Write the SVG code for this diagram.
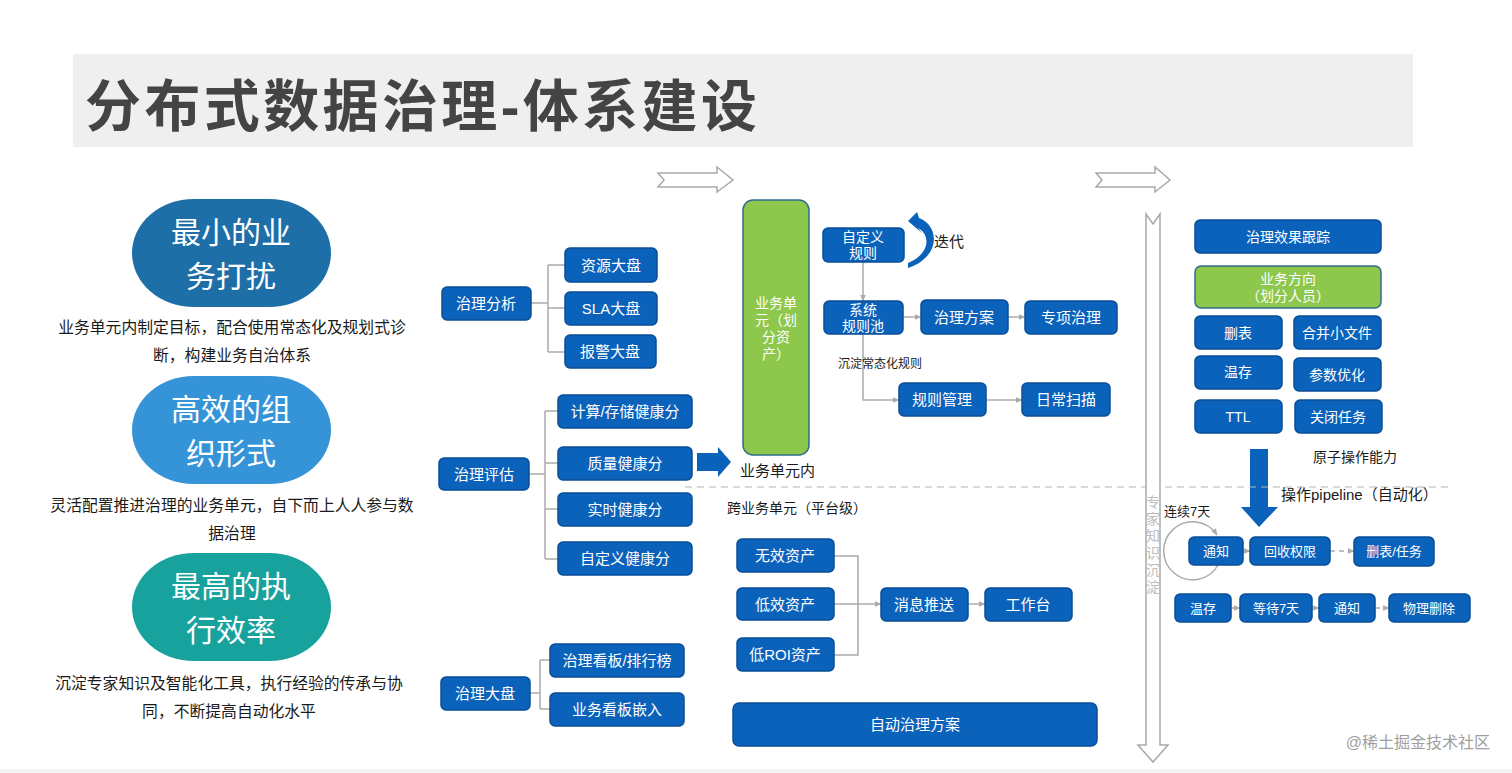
<svg xmlns="http://www.w3.org/2000/svg" width="1512" height="773" viewBox="0 0 1512 773">
<defs>
<style>
text{font-family:"Liberation Sans","Noto Sans CJK SC",sans-serif;}
.b{fill:#0b62bb;stroke:#0a4e96;stroke-width:1.5;}
.g{fill:#8dc74c;stroke:#2f6d8a;stroke-width:1.5;}
.t{fill:#fff;font-size:15px;text-anchor:middle;dominant-baseline:central;}
.ts{fill:#fff;font-size:14px;text-anchor:middle;dominant-baseline:central;}
.tx{fill:#fff;font-size:13px;text-anchor:middle;dominant-baseline:central;}
.c{fill:none;stroke:#ababab;stroke-width:1.5;}
.cd{fill:none;stroke:#ababab;stroke-width:1.5;stroke-dasharray:5 4;}
.cap{fill:#1a1a1a;font-size:15.8px;text-anchor:middle;dominant-baseline:central;}
.ov{fill:#fff;font-size:30px;text-anchor:middle;dominant-baseline:central;}
.lab{fill:#1a1a1a;dominant-baseline:central;}
.hol{fill:#fff;stroke:#a9a9a9;stroke-width:1.5;}
</style>
<marker id="ah" viewBox="0 0 10 10" refX="9" refY="5" markerWidth="7" markerHeight="7" orient="auto" markerUnits="userSpaceOnUse">
<path d="M0,1 L10,5 L0,9 Z" fill="#ababab"/>
</marker>
</defs>
<rect width="1512" height="773" fill="#fff"/>
<rect x="0" y="769" width="1512" height="4" fill="#f2f2f2"/>
<g id="title">
<rect x="73" y="54" width="1340" height="93" fill="#efefef"/>
<text x="85" y="106" font-size="56" font-weight="bold" fill="#444" dominant-baseline="central" textLength="672" lengthAdjust="spacing">分布式数据治理-体系建设</text>
</g>
<g id="topArrows">
<path class="hol" d="M658,173 L717,173 L717,167 L733,180 L717,192 L717,187 L658,187 L664,180 Z"/>
<path class="hol" d="M1096,173 L1155,173 L1155,167 L1170,180 L1155,192 L1155,187 L1096,187 L1102,180 Z"/>
</g>
<g id="pillar1">
<rect x="132" y="199" width="199" height="108" rx="62" ry="54" fill="#1e6fa8"/>
<text class="ov" x="231" y="232">最小的业</text>
<text class="ov" x="231" y="276">务打扰</text>
<text class="cap" x="232" y="327">业务单元内制定目标，配合使用常态化及规划式诊</text>
<text class="cap" x="232" y="355">断，构建业务自治体系</text>
</g>
<g id="pillar2">
<rect x="132" y="376" width="199" height="108" rx="62" ry="54" fill="#3594d8"/>
<text class="ov" x="231" y="409">高效的组</text>
<text class="ov" x="231" y="453">织形式</text>
<text class="cap" x="232" y="505">灵活配置推进治理的业务单元，自下而上人人参与数</text>
<text class="cap" x="232" y="533">据治理</text>
</g>
<g id="pillar3">
<rect x="132" y="553" width="199" height="108" rx="62" ry="54" fill="#18a29d"/>
<text class="ov" x="231" y="586">最高的执</text>
<text class="ov" x="231" y="630">行效率</text>
<text class="cap" x="229" y="683">沉淀专家知识及智能化工具，执行经验的传承与协</text>
<text class="cap" x="229" y="711">同，不断提高自动化水平</text>
</g>
<g id="connectors">
<path class="c" d="M531,303 H548 M548,265 V352 M548,265 H565 M548,308 H565 M548,352 H565"/>
<path class="c" d="M529,474 H545 M545,411 V559 M545,411 H558 M545,463 H558 M545,509 H558 M545,559 H558"/>
<path class="c" d="M530,693 H540 M540,660 V709 M540,660 H550 M540,709 H550"/>
<path class="c" d="M863,262 V301" marker-end="url(#ah)"/>
<path class="c" d="M903,317 H921" marker-end="url(#ah)"/>
<path class="c" d="M1008,317 H1025" marker-end="url(#ah)"/>
<path class="c" d="M863,334 V400 H899" marker-end="url(#ah)"/>
<path class="c" d="M986,400 H1022" marker-end="url(#ah)"/>
<path class="c" d="M834,556 H858 V655 H834 M834,604 H858"/>
<path class="c" d="M858,604 H881" marker-end="url(#ah)"/>
<path class="c" d="M968,604 H985" marker-end="url(#ah)"/>
<path class="c" d="M1243,551 H1250" marker-end="url(#ah)"/>
<path class="cd" d="M1330,551 H1354" marker-end="url(#ah)"/>
<path class="c" d="M1231,608 H1240" marker-end="url(#ah)"/>
<path class="c" d="M1312,608 H1319" marker-end="url(#ah)"/>
<path class="cd" d="M1375,608 H1389" marker-end="url(#ah)"/>
<path class="c" d="M1218,565 A29,29 0 1 1 1217,535" marker-end="url(#ah)"/>
<path fill="#0b62bb" d="M697,453 L718,453 L718,447 L731,462 L718,477 L718,471 L697,471 Z"/>
<path fill="#0b62bb" d="M908,221 L917,212 L919,218 C940,226 941,257 908,268 L908,263 C930,254 931,235 918,228 L922,233 Z"/>
<path fill="#0b62bb" d="M1250,449 L1268,449 L1268,507 L1278,507 L1259,527 L1241,507 L1250,507 Z"/>
<path fill="none" stroke="#b5b5b5" stroke-width="1.2" stroke-dasharray="7 5" d="M685,487 H1450"/>
</g>
<g id="expertArrow">
<path class="hol" d="M1146,214 L1153,224 L1160,214 L1160,745 L1168,745 L1153,762 L1138,745 L1146,745 Z"/>
<g fill="#bdbdbd" font-size="14" text-anchor="middle" dominant-baseline="central">
<text x="1153" y="502">专</text><text x="1153" y="519">家</text><text x="1153" y="536">知</text><text x="1153" y="553">识</text><text x="1153" y="570">沉</text><text x="1153" y="587">淀</text>
</g>
</g>
<g id="n-zlfx"><rect class="b" x="442" y="287" width="89" height="33" rx="5"/><text class="t" x="486" y="303.5">治理分析</text></g>
<g id="n-zydp"><rect class="b" x="565" y="248" width="92" height="34" rx="5"/><text class="t" x="611" y="265">资源大盘</text></g>
<g id="n-sladp"><rect class="b" x="565" y="292" width="92" height="33" rx="5"/><text class="t" x="611" y="308.5">SLA大盘</text></g>
<g id="n-bjdp"><rect class="b" x="565" y="335" width="91" height="33" rx="5"/><text class="t" x="610" y="351.5">报警大盘</text></g>
<g id="n-zlpg"><rect class="b" x="439" y="458" width="90" height="32" rx="5"/><text class="t" x="484" y="474">治理评估</text></g>
<g id="n-jsjkf"><rect class="b" x="558" y="395" width="134" height="33" rx="5"/><text class="t" x="625" y="411.5">计算/存储健康分</text></g>
<g id="n-zljkf"><rect class="b" x="558" y="447" width="134" height="33" rx="5"/><text class="t" x="625" y="463.5">质量健康分</text></g>
<g id="n-ssjkf"><rect class="b" x="558" y="493" width="134" height="33" rx="5"/><text class="t" x="625" y="509.5">实时健康分</text></g>
<g id="n-zdyjkf"><rect class="b" x="558" y="542" width="134" height="33" rx="5"/><text class="t" x="625" y="558.5">自定义健康分</text></g>
<g id="n-zldp"><rect class="b" x="441" y="677" width="89" height="33" rx="5"/><text class="t" x="485" y="693.5">治理大盘</text></g>
<g id="n-zlkb"><rect class="b" x="550" y="644" width="134" height="33" rx="5"/><text class="t" x="617" y="660.5">治理看板/排行榜</text></g>
<g id="n-ywkb"><rect class="b" x="550" y="693" width="134" height="33" rx="5"/><text class="t" x="617" y="709.5">业务看板嵌入</text></g>
<g id="n-ywdy">
<rect class="g" x="743" y="200" width="66" height="255" rx="10"/>
<text class="ts" x="776" y="303">业务单</text><text class="ts" x="776" y="320">元（划</text><text class="ts" x="776" y="337">分资</text><text class="ts" x="776" y="354">产）</text>
</g>
<text class="lab" x="740" y="470" font-size="15">业务单元内</text>
<g id="n-zdygz"><rect class="b" x="823" y="228" width="81" height="34" rx="5"/><text class="ts" x="863" y="237">自定义</text><text class="ts" x="863" y="253">规则</text></g>
<text class="lab" x="934" y="241" font-size="15">迭代</text>
<g id="n-xtgzc"><rect class="b" x="824" y="301" width="79" height="33" rx="5"/><text class="ts" x="863" y="310">系统</text><text class="ts" x="863" y="326">规则池</text></g>
<g id="n-zlfa"><rect class="b" x="921" y="300" width="87" height="34" rx="5"/><text class="t" x="964" y="317">治理方案</text></g>
<g id="n-zxzl"><rect class="b" x="1025" y="301" width="92" height="33" rx="5"/><text class="t" x="1071" y="317.5">专项治理</text></g>
<text class="lab" x="838" y="364" font-size="12">沉淀常态化规则</text>
<g id="n-gzgl"><rect class="b" x="899" y="383" width="87" height="33" rx="5"/><text class="t" x="942" y="399.5">规则管理</text></g>
<g id="n-rcsm"><rect class="b" x="1022" y="383" width="88" height="33" rx="5"/><text class="t" x="1066" y="399.5">日常扫描</text></g>
<text class="lab" x="727" y="508" font-size="14">跨业务单元（平台级）</text>
<g id="n-wxzc"><rect class="b" x="737" y="539" width="97" height="33" rx="5"/><text class="t" x="785" y="555.5">无效资产</text></g>
<g id="n-dxzc"><rect class="b" x="737" y="588" width="97" height="32" rx="5"/><text class="t" x="785" y="604">低效资产</text></g>
<g id="n-droi"><rect class="b" x="737" y="638" width="97" height="33" rx="5"/><text class="t" x="785" y="654.5">低ROI资产</text></g>
<g id="n-xxts"><rect class="b" x="881" y="588" width="87" height="33" rx="5"/><text class="t" x="924" y="604.5">消息推送</text></g>
<g id="n-gzt"><rect class="b" x="985" y="588" width="87" height="33" rx="5"/><text class="t" x="1028" y="604.5">工作台</text></g>
<g id="n-zdzl"><rect class="b" x="733" y="703" width="364" height="43" rx="6"/><text class="t" x="915" y="724.5">自动治理方案</text></g>
<g id="n-zlxg"><rect class="b" x="1195" y="220" width="186" height="33" rx="5"/><text class="ts" x="1288" y="236.5">治理效果跟踪</text></g>
<g id="n-ywfx"><rect class="g" x="1195" y="266" width="186" height="42" rx="6"/><text class="ts" x="1288" y="279">业务方向</text><text class="ts" x="1288" y="296">（划分人员）</text></g>
<g id="n-sb"><rect class="b" x="1195" y="316" width="87" height="33" rx="5"/><text class="ts" x="1238" y="332.5">删表</text></g>
<g id="n-hbxwj"><rect class="b" x="1294" y="316" width="87" height="33" rx="5"/><text class="ts" x="1337" y="332.5">合并小文件</text></g>
<g id="n-wc"><rect class="b" x="1195" y="356" width="87" height="33" rx="5"/><text class="ts" x="1238" y="372">温存</text></g>
<g id="n-csyh"><rect class="b" x="1294" y="358" width="87" height="33" rx="5"/><text class="ts" x="1337" y="374.5">参数优化</text></g>
<g id="n-ttl"><rect class="b" x="1195" y="400" width="87" height="33" rx="5"/><text class="ts" x="1238" y="416.5">TTL</text></g>
<g id="n-gbrw"><rect class="b" x="1295" y="400" width="87" height="33" rx="5"/><text class="ts" x="1338" y="416.5">关闭任务</text></g>
<text class="lab" x="1313" y="457" font-size="14">原子操作能力</text>
<text class="lab" x="1281" y="494" font-size="15">操作pipeline（自动化）</text>
<text class="lab" x="1164" y="511" font-size="13">连续7天</text>
<g id="n-tz1"><rect class="b" x="1189" y="537" width="54" height="28" rx="5"/><text class="tx" x="1216" y="551">通知</text></g>
<g id="n-hsqx"><rect class="b" x="1250" y="537" width="80" height="28" rx="5"/><text class="tx" x="1290" y="551">回收权限</text></g>
<g id="n-sbrw"><rect class="b" x="1354" y="537" width="80" height="29" rx="5"/><text class="tx" x="1394" y="551.5">删表/任务</text></g>
<g id="n-wc2"><rect class="b" x="1175" y="594" width="56" height="28" rx="5"/><text class="tx" x="1203" y="608">温存</text></g>
<g id="n-dd7"><rect class="b" x="1240" y="594" width="72" height="28" rx="5"/><text class="tx" x="1276" y="608">等待7天</text></g>
<g id="n-tz2"><rect class="b" x="1319" y="594" width="56" height="28" rx="5"/><text class="tx" x="1347" y="608">通知</text></g>
<g id="n-wlsc"><rect class="b" x="1389" y="594" width="81" height="28" rx="5"/><text class="tx" x="1429" y="608">物理删除</text></g>
<text x="1490" y="742" font-size="16" fill="#a0a0a0" text-anchor="end" dominant-baseline="central">@稀土掘金技术社区</text>
</svg>
